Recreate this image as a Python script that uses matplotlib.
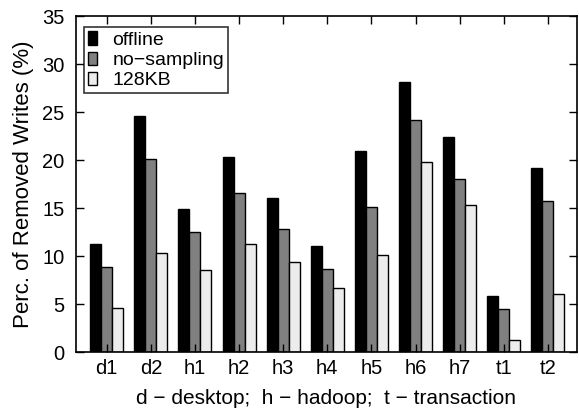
import matplotlib
matplotlib.use("Agg")
import matplotlib.pyplot as plt
import numpy as np

plt.rcParams['font.family'] = ['Liberation Sans', 'DejaVu Sans']

categories = ["d1", "d2", "h1", "h2", "h3", "h4", "h5", "h6", "h7", "t1", "t2"]
offline = [11.3, 24.6, 14.9, 20.3, 16.0, 11.0, 20.9, 28.1, 22.4, 5.8, 19.2]
no_sampling = [8.9, 20.1, 12.5, 16.6, 12.8, 8.7, 15.1, 24.2, 18.0, 4.5, 15.7]
kb128 = [4.6, 10.3, 8.5, 11.3, 9.4, 6.7, 10.1, 19.8, 15.3, 1.3, 6.0]
series_names = ["offline", "no\u2212sampling", "128KB"]
colors = ["#000000", "#808080", "#ececec"]

fig = plt.figure(figsize=(5.79, 4.12), dpi=100)
ax = fig.add_axes([0.131, 0.1456, 0.8655, 0.8154])

x = np.arange(len(categories))
w = 0.25
for i, (vals, name, c) in enumerate(zip([offline, no_sampling, kb128], series_names, colors)):
    ax.bar(x + (i - 1) * w, vals, w, color=c, edgecolor="black", linewidth=1.0, label=name)

ax.set_xlim(-0.7, 10.66)
ax.set_ylim(0, 35)
ax.set_yticks(np.arange(0, 36, 5))
ax.set_xticks(x)
ax.set_xticklabels(categories)
ax.tick_params(direction="in", length=6, width=1, top=True, right=True, labelsize=14.5)
ax.tick_params(axis="y", pad=8)
ax.tick_params(axis="x", pad=5)
for s in ax.spines.values():
    s.set_linewidth(1.2)
ax.set_ylabel("Perc. of Removed Writes (%)", fontsize=16, labelpad=6)
ax.set_xlabel("d \u2212 desktop;  h \u2212 hadoop;  t \u2212 transaction", fontsize=15, labelpad=8)

leg = ax.legend(loc="upper left", bbox_to_anchor=(0.017, 0.966), fontsize=14, frameon=True,
                fancybox=False, edgecolor="black", handlelength=0.45, handleheight=0.68,
                handletextpad=0.8, borderpad=0.2, labelspacing=0.14, borderaxespad=0.0)
leg.get_frame().set_linewidth(1.2)

fig.savefig("out.png", dpi=100)
